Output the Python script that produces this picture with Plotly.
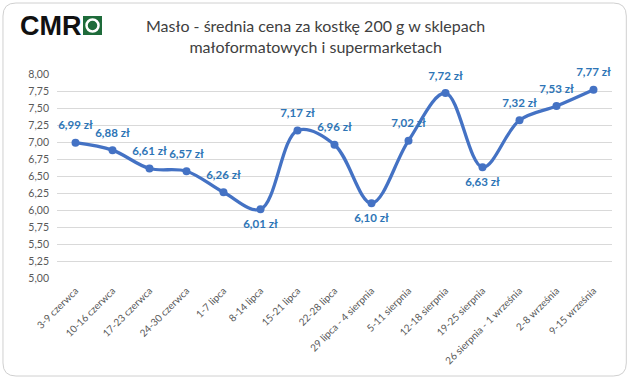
import plotly.graph_objects as go

categories = ["3-9 czerwca", "10-16 czerwca", "17-23 czerwca", "24-30 czerwca", "1-7 lipca",
              "8-14 lipca", "15-21 lipca", "22-28 lipca", "29 lipca - 4 sierpnia", "5-11 sierpnia",
              "12-18 sierpnia", "19-25 sierpnia", "26 sierpnia - 1 września", "2-8 września", "9-15 września"]
prices = [6.99, 6.88, 6.61, 6.57, 6.26, 6.01, 7.17, 6.96, 6.10, 7.02, 7.72, 6.63, 7.32, 7.53, 7.77]
label_below = [False, False, False, False, False, True, False, False, True, False, False, True, False, False, False]

W, H = 631, 382
L, R, T, B = 57, 19.3, 74, 104
pw, ph = W - L - R, H - T - B

def px(x):
    return (x - L) / pw

def py(y):
    return (H - B - y) / ph

texts = [f"{v:.2f}".replace(".", ",") + " zł" for v in prices]
positions = ["bottom center" if b else "top center" for b in label_below]

fig = go.Figure()
fig.add_trace(go.Scatter(
    x=categories, y=prices, mode="lines+markers",
    line=dict(color="#4472C4", width=3.3, shape="spline", smoothing=1.0),
    marker=dict(color="#4472C4", size=8),
    cliponaxis=False, hoverinfo="skip",
))
# data labels (transparent larger markers give Excel-like label offset)
fig.add_trace(go.Scatter(
    x=categories, y=prices, mode="markers+text",
    marker=dict(color="rgba(0,0,0,0)", size=15),
    text=texts, textposition=positions,
    textfont=dict(family="Lato", size=11.5, color="#2E75B6", weight="bold"),
    cliponaxis=False, hoverinfo="skip",
))

# rounded border
x0, x1, y0, y1, r = 3, 626, 3, 376, 13
path = (f"M {px(x0+r)} {py(y0)} L {px(x1-r)} {py(y0)} Q {px(x1)} {py(y0)} {px(x1)} {py(y0+r)} "
        f"L {px(x1)} {py(y1-r)} Q {px(x1)} {py(y1)} {px(x1-r)} {py(y1)} "
        f"L {px(x0+r)} {py(y1)} Q {px(x0)} {py(y1)} {px(x0)} {py(y1-r)} "
        f"L {px(x0)} {py(y0+r)} Q {px(x0)} {py(y0)} {px(x0+r)} {py(y0)} Z")
shapes = [
    dict(type="path", xref="paper", yref="paper", path=path,
         line=dict(color="#D0D0D0", width=1), layer="below"),
    # logo square
    dict(type="rect", xref="paper", yref="paper", x0=px(83), x1=px(102), y0=py(35), y1=py(16),
         fillcolor="#1E6B3A", line=dict(width=0)),
    dict(type="circle", xref="paper", yref="paper", x0=px(86.5), x1=px(98.5), y0=py(31.5), y1=py(19.5),
         fillcolor="rgba(0,0,0,0)", line=dict(color="white", width=2.5)),
]

annotations = [
    dict(text="Masło - średnia cena za kostkę 200 g w sklepach<br>małoformatowych i supermarketach",
         xref="paper", yref="paper", x=px(315), y=py(36), xanchor="center", yanchor="middle",
         showarrow=False, font=dict(family="Lato", size=16, color="#404040")),
    dict(text="<b>CMR</b>", xref="paper", yref="paper", x=px(18), y=py(26), xanchor="left",
         yanchor="middle", showarrow=False,
         font=dict(family="Liberation Sans", size=27, color="#111111")),
]

fig.update_layout(
    width=W, height=H, margin=dict(l=L, r=R, t=T, b=B, autoexpand=False),
    paper_bgcolor="white", plot_bgcolor="white",
    separators=", ", showlegend=False,
    shapes=shapes, annotations=annotations,
    xaxis=dict(type="category", range=[-0.5, len(categories) - 0.5], tickangle=-45,
               showgrid=False, showline=False, ticks="", automargin=False, ticklabelstandoff=4,
               tickfont=dict(family="Lato", size=10, color="#595959")),
    yaxis=dict(range=[5.0, 8.0], dtick=0.25, tickformat=".2f", showgrid=True, automargin=False,
               gridcolor="#D9D9D9", gridwidth=1, zeroline=False, showline=False, ticks="",
               ticklabelstandoff=7,
               tickfont=dict(family="Lato", size=10.5, color="#595959")),
)

fig.write_html("out.html", config={"displayModeBar": False},
               post_script="document.body.style.margin='0';")
